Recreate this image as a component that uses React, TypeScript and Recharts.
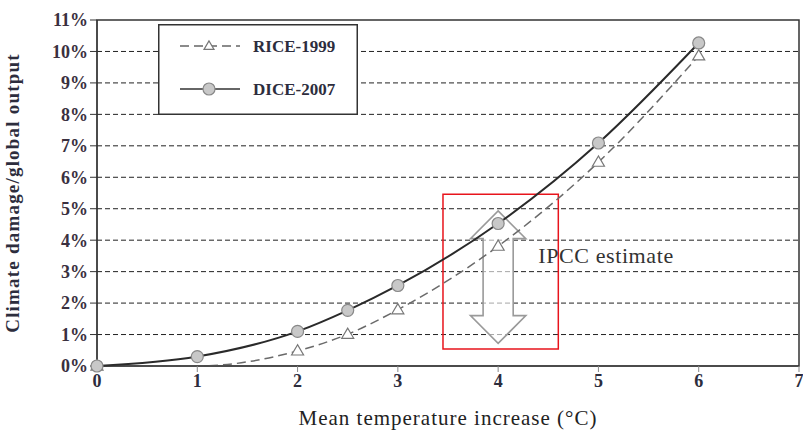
import {
  LineChart,
  Line,
  XAxis,
  YAxis,
  CartesianGrid,
  ReferenceArea,
  ReferenceDot,
} from "recharts";

const temps = [0, 1, 2, 2.5, 3, 4, 5, 6];
const rice1999 = [0, 0, 0.48, 1.01, 1.79, 3.81, 6.48, 9.86];
const riceMarked = [true, false, true, true, true, true, true, true];
const dice2007 = [0, 0.3, 1.1, 1.77, 2.56, 4.53, 7.09, 10.27];

const xTicks = [0, 1, 2, 3, 4, 5, 6, 7];
const yTicks = [0, 1, 2, 3, 4, 5, 6, 7, 8, 9, 10, 11];

// IPCC estimate arrow (°C, % of output)
const arrowX = 4;
const arrowTop = 4.93;
const arrowHeadBase = 4.05;
const arrowShaftBottom = 1.6;
const arrowBottom = 0.72;
const arrowHeadHalf = 0.276;
const arrowShaftHalf = 0.15;

const data = temps.map((t, i) => ({
  t,
  rice: rice1999[i],
  dice: dice2007[i],
  riceMarked: riceMarked[i],
}));

const serif = "'Liberation Serif', 'DejaVu Serif', serif";

function Triangle({ cx, cy, size = 6 }: { cx: number; cy: number; size?: number }) {
  const h = size * 1.7;
  return (
    <polygon
      points={`${cx},${cy - h * 0.6} ${cx - size},${cy + h * 0.4} ${cx + size},${cy + h * 0.4}`}
      fill="#fff"
      stroke="#777"
      strokeWidth={1.2}
    />
  );
}

function RiceDot(props: any) {
  const { cx, cy, index, payload } = props;
  if (!payload || !payload.riceMarked) return <g key={`rd-${index}`} />;
  return (
    <g key={`rd-${index}`}>
      <Triangle cx={cx} cy={cy} />
    </g>
  );
}

function ArrowShape(props: any) {
  const { x, y, width, height } = props;
  const px = (v: number) => x + ((v - (arrowX - arrowHeadHalf)) / (2 * arrowHeadHalf)) * width;
  const py = (v: number) => y + ((arrowTop - v) / (arrowTop - arrowBottom)) * height;
  const pts = [
    [px(arrowX), py(arrowTop)],
    [px(arrowX + arrowHeadHalf), py(arrowHeadBase)],
    [px(arrowX + arrowShaftHalf), py(arrowHeadBase)],
    [px(arrowX + arrowShaftHalf), py(arrowShaftBottom)],
    [px(arrowX + arrowHeadHalf), py(arrowShaftBottom)],
    [px(arrowX), py(arrowBottom)],
    [px(arrowX - arrowHeadHalf), py(arrowShaftBottom)],
    [px(arrowX - arrowShaftHalf), py(arrowShaftBottom)],
    [px(arrowX - arrowShaftHalf), py(arrowHeadBase)],
    [px(arrowX - arrowHeadHalf), py(arrowHeadBase)],
  ];
  return (
    <polygon
      points={pts.map((p) => p.join(",")).join(" ")}
      fill="#fff"
      fillOpacity={0.6}
      stroke="#9a9a9a"
      strokeWidth={1.6}
    />
  );
}

function LegendBox() {
  return (
    <svg width={200} height={91} style={{ display: "block" }}>
      <rect x={0.75} y={0.75} width={198.5} height={89.5} fill="#fff" stroke="#333" strokeWidth={1.5} />
      <line x1={22} x2={82} y1={22} y2={22} stroke="#666" strokeWidth={1.5} strokeDasharray="9 5" />
      <Triangle cx={51} cy={22} size={5} />
      <text x={95} y={28} fontFamily={serif} fontWeight="bold" fontSize={17} fill="#2d2d3d">
        RICE-1999
      </text>
      <line x1={22} x2={82} y1={65} y2={65} stroke="#333" strokeWidth={1.5} />
      <circle cx={51} cy={65} r={6} fill="#c8c8c8" stroke="#888" strokeWidth={1.2} />
      <text x={95} y={71} fontFamily={serif} fontWeight="bold" fontSize={17} fill="#2d2d3d">
        DICE-2007
      </text>
    </svg>
  );
}

export default function App() {
  return (
    <div style={{ position: "absolute", left: 0, top: 0, width: 803, height: 435, background: "#fff" }}>
      <LineChart
        width={803}
        height={435}
        data={data}
        margin={{ top: 20, right: 4, left: 0, bottom: 0 }}
      >
        <CartesianGrid
          horizontal
          vertical={false}
          stroke="#222"
          strokeDasharray="5 3"
          horizontalValues={[1, 2, 3, 4, 5, 6, 7, 8, 9, 10]}
        />
        <ReferenceArea x1={0} x2={7} y1={0} y2={11} fill="none" stroke="#333" strokeWidth={1.5} />
        <XAxis
          dataKey="t"
          type="number"
          domain={[0, 7]}
          ticks={xTicks}
          interval={0}
          height={69}
          stroke="#333"
          tickSize={6}
          tickLine={{ stroke: "#888" }}
          tick={{ fill: "#2d2d3d", fontSize: 18, fontWeight: "bold", fontFamily: serif }}
          label={{
            value: "Mean temperature increase (°C)",
            position: "insideBottom",
            offset: 10,
            fill: "#222",
            fontSize: 21,
            letterSpacing: 1,
            fontFamily: serif,
          }}
        />
        <YAxis
          type="number"
          domain={[0, 11]}
          ticks={yTicks}
          interval={0}
          width={97}
          stroke="#333"
          tickSize={7}
          tickLine={{ stroke: "#333" }}
          tickFormatter={(v: number) => `${v}%`}
          tick={{ fill: "#3a3040", fontSize: 18, fontWeight: "bold", fontFamily: serif }}
          label={{
            value: "Climate damage/global output",
            angle: -90,
            position: "insideLeft",
            offset: 12,
            style: { textAnchor: "middle" },
            fill: "#2d2d3d",
            fontSize: 19,
            letterSpacing: 1.2,
            fontWeight: "bold",
            fontFamily: serif,
          }}
        />
        <ReferenceArea
          x1={3.45}
          x2={4.6}
          y1={0.54}
          y2={5.46}
          fill="none"
          stroke="#e8141c"
          strokeWidth={1.5}
        />
        <Line
          type="monotone"
          dataKey="rice"
          stroke="#6a6a6a"
          strokeWidth={1.5}
          strokeDasharray="9 5"
          dot={RiceDot}
          activeDot={false}
          isAnimationActive={false}
        />
        <Line
          type="monotone"
          dataKey="dice"
          stroke="#2a2a2a"
          strokeWidth={2}
          dot={{ r: 6, fill: "#c8c8c8", stroke: "#888", strokeWidth: 1.2 }}
          activeDot={false}
          isAnimationActive={false}
        />
        <ReferenceArea
          x1={arrowX - arrowHeadHalf}
          x2={arrowX + arrowHeadHalf}
          y1={arrowBottom}
          y2={arrowTop}
          shape={<ArrowShape />}
        />
        <ReferenceDot
          x={4.35}
          y={3.51}
          r={0}
          fill="none"
          stroke="none"
          label={{ value: "IPCC estimate", position: "right", fill: "#333", fontSize: 22, letterSpacing: 0.6, fontFamily: serif }}
        />
      </LineChart>
      <div style={{ position: "absolute", left: 158, top: 24 }}>
        <LegendBox />
      </div>
    </div>
  );
}
